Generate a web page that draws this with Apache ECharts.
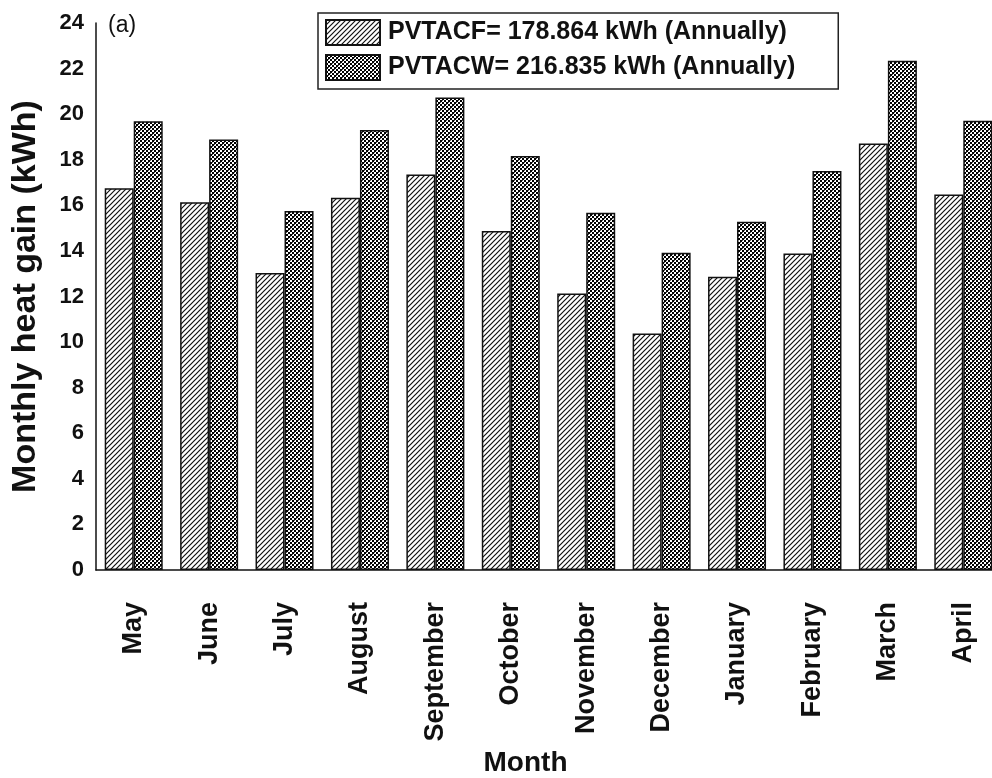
<!DOCTYPE html>
<html>
<head>
<meta charset="utf-8">
<title>Monthly heat gain</title>
<script src="https://cdn.jsdelivr.net/npm/echarts@6/dist/echarts.min.js"></script>
<style>
  html, body { margin: 0; padding: 0; background: #fff; }
  #chart { width: 992px; height: 778px; }
</style>
</head>
<body>
<div id="chart"></div>
<script>
// Monthly heat gain of the two PVT air collector configurations
const months = ['May', 'June', 'July', 'August', 'September', 'October',
                'November', 'December', 'January', 'February', 'March', 'April'];
const pvtacf = [16.75, 16.13, 13.03, 16.33, 17.35, 14.87, 12.13, 10.38, 12.87, 13.89, 18.71, 16.48];
const pvtacw = [19.69, 18.89, 15.75, 19.30, 20.73, 18.16, 15.67, 13.92, 15.28, 17.51, 22.34, 19.71];
const seriesNames = ['PVTACF= 178.864 kWh (Annually)', 'PVTACW= 216.835 kWh (Annually)'];
const yTicks = { min: 0, max: 24, step: 2 };

const FONT = '"Liberation Sans", Arial, sans-serif';

// diagonal "/" hatching
function hatchTile() {
  const c = document.createElement('canvas');
  c.width = 5; c.height = 5;
  const g = c.getContext('2d');
  g.fillStyle = '#fff';
  g.fillRect(0, 0, 5, 5);
  g.strokeStyle = '#111';
  g.lineWidth = 1.2;
  g.beginPath();
  g.moveTo(-1, 6); g.lineTo(6, -1);
  g.moveTo(-1, 1); g.lineTo(1, -1);
  g.moveTo(4, 6); g.lineTo(6, 4);
  g.stroke();
  return c;
}

// dense black/white checker with small grey crosses
function checkTile() {
  const c = document.createElement('canvas');
  c.width = 8; c.height = 8;
  const g = c.getContext('2d');
  g.fillStyle = '#fff';
  g.fillRect(0, 0, 8, 8);
  g.fillStyle = '#000';
  for (let i = 0; i < 4; i++) {
    for (let j = 0; j < 4; j++) {
      if ((i + j) % 2 === 0) g.fillRect(i * 2, j * 2, 2, 2);
    }
  }
  g.fillStyle = '#555';
  g.fillRect(6, 0, 1, 1);
  g.fillRect(2, 4, 1, 1);
  g.fillRect(4, 2, 1, 1);
  g.fillRect(0, 6, 1, 1);
  return c;
}

const chart = echarts.init(document.getElementById('chart'), null, { renderer: 'canvas' });

const axisLine = { show: true, lineStyle: { color: '#111', width: 1.5 } };

chart.setOption({
  backgroundColor: '#fff',
  animation: false,
  title: {
    text: '(a)',
    left: 103,
    top: 9,
    textStyle: { fontFamily: FONT, fontSize: 23, fontWeight: 'normal', color: '#111' }
  },
  legend: {
    orient: 'vertical',
    left: 318,
    top: 13,
    itemWidth: 54,
    itemHeight: 25,
    itemGap: 8,
    padding: [6, 43, 8, 7],
    borderColor: '#222',
    borderWidth: 1.5,
    selectedMode: false,
    icon: 'rect',
    data: seriesNames,
    textStyle: {
      fontFamily: FONT, fontSize: 25, fontWeight: 'bold', color: '#111',
      padding: [0, 0, 0, 3]
    }
  },
  // the plot runs a little past the right edge of the canvas
  grid: { left: 96, top: 23, bottom: 208, right: -9, outerBoundsMode: 'none', containLabel: false },
  xAxis: {
    type: 'category',
    data: months,
    axisLine: axisLine,
    axisTick: { show: false },
    axisLabel: {
      rotate: 90,
      margin: 32,
      fontFamily: FONT,
      fontSize: 27,
      fontWeight: 'bold',
      color: '#111'
    },
    name: 'Month',
    nameLocation: 'middle',
    nameGap: 172,
    nameTextStyle: { fontFamily: FONT, fontSize: 28, fontWeight: 'bold', color: '#111', padding: [0, 46, 0, 0] }
  },
  yAxis: {
    type: 'value',
    min: yTicks.min,
    max: yTicks.max,
    interval: yTicks.step,
    axisLine: axisLine,
    axisTick: { show: false },
    splitLine: { show: false },
    axisLabel: {
      margin: 12,
      fontFamily: FONT,
      fontSize: 22,
      fontWeight: 'bold',
      color: '#111'
    },
    name: 'Monthly heat gain (kWh)',
    nameLocation: 'middle',
    nameGap: 53,
    nameTextStyle: { fontFamily: FONT, fontSize: 34, fontWeight: 'bold', color: '#111' }
  },
  series: [
    {
      name: seriesNames[0],
      type: 'bar',
      data: pvtacf,
      barWidth: 29,
      barGap: '0%',
      itemStyle: { color: { image: hatchTile(), repeat: 'repeat' }, borderColor: '#111', borderWidth: 1.5 }
    },
    {
      name: seriesNames[1],
      type: 'bar',
      data: pvtacw,
      barWidth: 29,
      barGap: '0%',
      itemStyle: { color: { image: checkTile(), repeat: 'repeat' }, borderColor: '#111', borderWidth: 1.5 }
    }
  ]
});
</script>
</body>
</html>
